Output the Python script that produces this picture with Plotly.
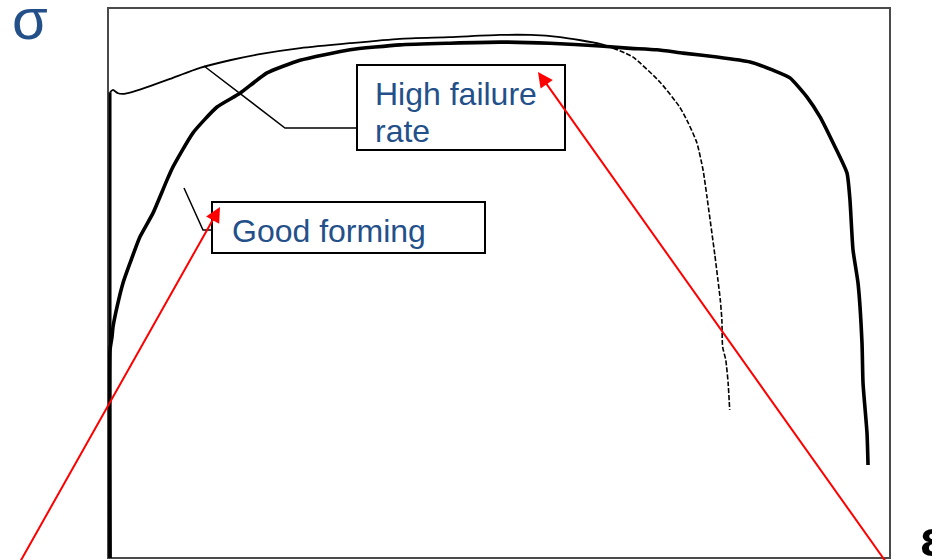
import plotly.graph_objects as go

# ---- data (strain, stress) in relative units ----
thin_elastic_x = [0.26, 0.26]
thin_elastic_y = [0.0, 84.7]

thin_x = [0.26, 0.64, 1.28, 2.05, 3.45, 5.37, 7.93, 11.76, 15.6, 19.4, 24.6, 30.9, 37.3, 43.7, 50.1, 54.0, 57.8, 62.9, 64.6]
thin_y = [84.7, 85.1, 84.5, 84.4, 84.9, 85.8, 87.1, 89.1, 90.5, 91.6, 92.7, 93.6, 94.4, 94.7, 95.1, 95.1, 94.7, 93.5, 92.7]

thin_fall_x = [64.6, 67.1, 70.6, 73.1, 74.2, 75.3, 76.1, 76.6, 77.6, 78.0, 78.3, 78.5, 78.6, 79.0, 79.3, 79.5]
thin_fall_y = [92.7, 91.1, 86.5, 82.0, 79.1, 75.5, 70.5, 65.6, 55.1, 50.5, 46.9, 43.3, 38.4, 36.0, 31.8, 26.9]

thick_x = [0.26, 0.26, 0.51, 0.64, 1.15, 1.92, 2.81, 4.09, 5.75, 7.54, 8.31, 10.87, 13.94, 16.88, 20.33, 24.55,
           30.95, 37.34, 43.73, 50.13, 56.52, 62.92, 66.37, 70.20, 73.53, 77.88, 82.10, 85.04, 87.21, 89.39,
           91.05, 92.71, 94.50, 94.88, 95.27, 95.91, 96.42, 96.55, 97.06, 97.19]
thick_y = [0.0, 37.8, 40.2, 42.0, 45.6, 50.0, 53.6, 58.4, 62.7, 68.7, 71.1, 77.3, 82.0, 84.5, 88.2, 90.5,
           92.4, 93.3, 93.6, 93.8, 93.6, 93.1, 92.7, 92.4, 91.8, 91.1, 90.2, 88.7, 87.3, 83.8,
           80.2, 75.5, 70.0, 65.1, 56.0, 50.0, 39.1, 31.8, 22.7, 16.9]

label_high = ["High failure", "rate"]
label_good = "Good forming"
y_label = "σ"
x_label = "ε"

TEXT_BLUE = "#24508A"
FONT = "Liberation Sans, Arial, sans-serif"

# pixel helpers for layout placement (plot area: 108..890 x, 8..558 y)
def px_x(p):
    return (p - 108) / 7.82

def px_y(p):
    return (558 - p) / 5.5

fig = go.Figure()
fig.add_trace(go.Scatter(x=thin_elastic_x, y=thin_elastic_y, mode="lines",
                         line=dict(color="black", width=3), hoverinfo="skip"))
fig.add_trace(go.Scatter(x=thin_x, y=thin_y, mode="lines",
                         line=dict(color="black", width=1.8, shape="spline", smoothing=0.6), hoverinfo="skip"))
fig.add_trace(go.Scatter(x=thin_fall_x, y=thin_fall_y, mode="lines",
                         line=dict(color="black", width=1.6, dash="5px,2px", shape="spline", smoothing=0.6),
                         hoverinfo="skip"))
fig.add_trace(go.Scatter(x=thick_x, y=thick_y, mode="lines",
                         line=dict(color="black", width=3.6, shape="spline", smoothing=0.5), hoverinfo="skip"))

shapes = []
# frame
shapes.append(dict(type="rect", xref="paper", yref="paper", x0=0, x1=1, y0=0, y1=1,
                   line=dict(color="#4a4a4a", width=2), layer="below"))
# High failure rate box + leader
shapes.append(dict(type="rect", x0=px_x(357), x1=px_x(565), y0=px_y(150), y1=px_y(65),
                   line=dict(color="black", width=2), fillcolor="white"))
shapes.append(dict(type="path",
                   path=f"M {px_x(357)},{px_y(128)} L {px_x(285)},{px_y(128)} L {px_x(204)},{px_y(66)}",
                   line=dict(color="black", width=1.5)))
# Good forming box + leader
shapes.append(dict(type="rect", x0=px_x(212), x1=px_x(485), y0=px_y(253), y1=px_y(202),
                   line=dict(color="black", width=2), fillcolor="white"))
shapes.append(dict(type="path",
                   path=f"M {px_x(212)},{px_y(230)} L {px_x(203)},{px_y(230)} L {px_x(184)},{px_y(188)}",
                   line=dict(color="black", width=1.5)))

annotations = []
annotations.append(dict(x=px_x(373), y=px_y(94), text=label_high[0], showarrow=False, xanchor="left",
                        yanchor="middle", font=dict(family=FONT, size=32, color=TEXT_BLUE)))
annotations.append(dict(x=px_x(373), y=px_y(131), text=label_high[1], showarrow=False, xanchor="left",
                        yanchor="middle", font=dict(family=FONT, size=32, color=TEXT_BLUE)))
annotations.append(dict(x=px_x(230), y=px_y(231), text=label_good, showarrow=False, xanchor="left",
                        yanchor="middle", font=dict(family=FONT, size=32, color=TEXT_BLUE)))
# red arrows
annotations.append(dict(x=px_x(220), y=px_y(207), ax=px_x(20), ay=px_y(562), xref="x", yref="y",
                        axref="x", ayref="y", text="", showarrow=True, arrowhead=2, arrowsize=1.5,
                        arrowwidth=2, arrowcolor="#ff0000"))
annotations.append(dict(x=px_x(538), y=px_y(72), ax=px_x(886), ay=px_y(562), xref="x", yref="y",
                        axref="x", ayref="y", text="", showarrow=True, arrowhead=2, arrowsize=1.5,
                        arrowwidth=2, arrowcolor="#ff0000"))
# axis symbols
annotations.append(dict(x=(10 - 108) / 782, y=(558 - 18) / 550, xref="paper", yref="paper", text=y_label,
                        showarrow=False, xanchor="left", yanchor="middle",
                        font=dict(family=FONT, size=58, color=TEXT_BLUE)))
annotations.append(dict(x=(918 - 108) / 782, y=(558 - 539) / 550, xref="paper", yref="paper",
                        text="<b>" + x_label + "</b>", showarrow=False, xanchor="left", yanchor="middle",
                        font=dict(family=FONT, size=50, color="black")))

fig.update_layout(
    width=932, height=560,
    margin=dict(l=108, r=42, t=8, b=2),
    paper_bgcolor="white", plot_bgcolor="white",
    showlegend=False, hovermode=False,
    shapes=shapes, annotations=annotations,
    xaxis=dict(range=[0, 100], showgrid=False, zeroline=False, showticklabels=False, ticks="",
               showline=False, fixedrange=True),
    yaxis=dict(range=[0, 100], showgrid=False, zeroline=False, showticklabels=False, ticks="",
               showline=False, fixedrange=True),
)
fig.write_html("out.html", config={"displayModeBar": False},
               post_script="document.body.style.margin='0';document.body.style.overflow='hidden';")
